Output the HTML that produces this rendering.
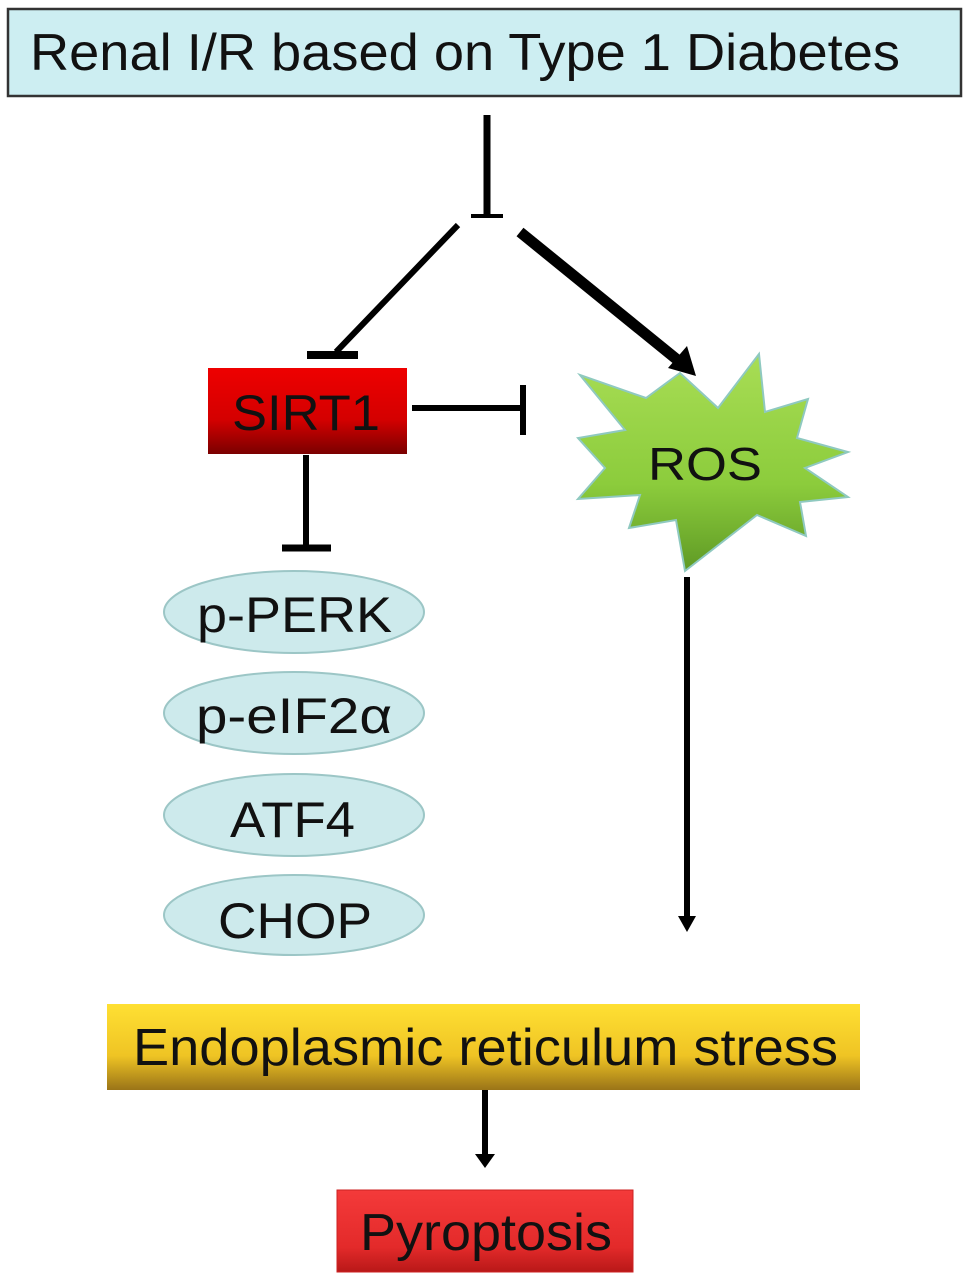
<!DOCTYPE html>
<html><head><meta charset="utf-8"><style>
html,body{margin:0;padding:0;background:#fff;}
svg{display:block;}
text{font-family:"Liberation Sans",Arial,sans-serif;fill:#111;}
</style></head><body>
<svg width="969" height="1284" viewBox="0 0 969 1284" xmlns="http://www.w3.org/2000/svg">
<defs>
<linearGradient id="red" x1="0" y1="0" x2="0" y2="1"><stop offset="0" stop-color="#ee0000"/><stop offset="0.6" stop-color="#d40000"/><stop offset="1" stop-color="#7a0000"/></linearGradient>
<linearGradient id="red2" x1="0" y1="0" x2="0" y2="1"><stop offset="0" stop-color="#f43a3a"/><stop offset="0.7" stop-color="#e32a2a"/><stop offset="1" stop-color="#b81818"/></linearGradient>
<linearGradient id="yel" x1="0" y1="0" x2="0" y2="1"><stop offset="0" stop-color="#ffe033"/><stop offset="0.6" stop-color="#efc424"/><stop offset="1" stop-color="#9a7418"/></linearGradient>
<linearGradient id="grn" x1="0" y1="0" x2="0" y2="1"><stop offset="0" stop-color="#a8dd55"/><stop offset="0.6" stop-color="#8ccc3c"/><stop offset="1" stop-color="#5f9a25"/></linearGradient>
</defs>
<rect x="8" y="9" width="953" height="87" fill="#cdeef2" stroke="#333" stroke-width="2.5"/>
<text x="30" y="70" font-size="52" textLength="870" lengthAdjust="spacingAndGlyphs">Renal I/R based on Type 1 Diabetes</text>

<line x1="487" y1="115" x2="487" y2="216" stroke="#000" stroke-width="7"/>
<line x1="471" y1="216" x2="503" y2="216" stroke="#000" stroke-width="4"/>
<line x1="458" y1="225" x2="336" y2="352" stroke="#000" stroke-width="6"/>
<line x1="307" y1="355" x2="358" y2="355" stroke="#000" stroke-width="8"/>
<line x1="520" y1="232" x2="680" y2="362" stroke="#000" stroke-width="11"/>
<polygon points="696,376 668,368 687,346" fill="#000"/>

<rect x="208" y="368" width="199" height="86" fill="url(#red)"/>
<text x="232" y="430" font-size="50" textLength="148" lengthAdjust="spacingAndGlyphs">SIRT1</text>
<line x1="412" y1="408" x2="523" y2="408" stroke="#000" stroke-width="6"/>
<line x1="523" y1="385" x2="523" y2="435" stroke="#000" stroke-width="6"/>

<polygon points="759,354 765,412 808,399 797,438 848,452 805,468 848,497 800,502 806,536 757,515 685,571 676,520 629,528 640,495 578,499 605,468 578,438 625,430 580,375 646,398 680,373 718,408" fill="url(#grn)" stroke="#8fc9c0" stroke-width="2"/>
<text x="648" y="480" font-size="46" textLength="114" lengthAdjust="spacingAndGlyphs">ROS</text>

<line x1="306" y1="455" x2="306" y2="548" stroke="#000" stroke-width="6"/>
<line x1="282" y1="548" x2="331" y2="548" stroke="#000" stroke-width="7"/>

<g fill="#cdeaec" stroke="#9cc6c6" stroke-width="2">
<ellipse cx="294" cy="612" rx="130" ry="41"/>
<ellipse cx="294" cy="713" rx="130" ry="41"/>
<ellipse cx="294" cy="815" rx="130" ry="41"/>
<ellipse cx="294" cy="915" rx="130" ry="40"/>
</g>
<text x="197" y="632" font-size="50" textLength="195" lengthAdjust="spacingAndGlyphs">p-PERK</text>
<text x="196" y="733" font-size="50" textLength="196" lengthAdjust="spacingAndGlyphs">p-eIF2α</text>
<text x="230" y="837" font-size="50" textLength="125" lengthAdjust="spacingAndGlyphs">ATF4</text>
<text x="218" y="938" font-size="50" textLength="154" lengthAdjust="spacingAndGlyphs">CHOP</text>

<line x1="687" y1="577" x2="687" y2="918" stroke="#000" stroke-width="6"/>
<polygon points="678,916 696,916 687,932" fill="#000"/>

<rect x="107" y="1004" width="753" height="86" fill="url(#yel)"/>
<text x="133" y="1065" font-size="52" textLength="705" lengthAdjust="spacingAndGlyphs">Endoplasmic reticulum stress</text>

<line x1="485" y1="1090" x2="485" y2="1156" stroke="#000" stroke-width="6"/>
<polygon points="475,1154 495,1154 485,1168" fill="#000"/>

<rect x="337" y="1190" width="296" height="82" fill="url(#red2)" stroke="#c22" stroke-width="1"/>
<text x="360" y="1250" font-size="52" textLength="252" lengthAdjust="spacingAndGlyphs">Pyroptosis</text>
</svg>
</body></html>
